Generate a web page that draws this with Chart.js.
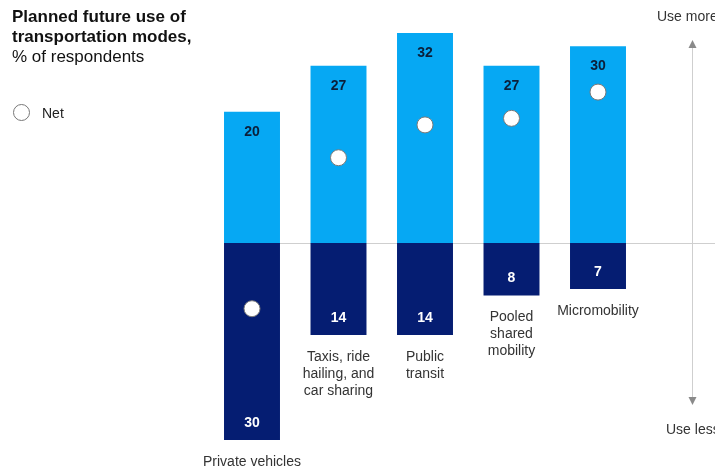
<!DOCTYPE html>
<html>
<head>
<meta charset="utf-8">
<script src="https://cdn.jsdelivr.net/npm/chart.js@4"></script>
<style>
  body { margin: 0; background: #fff; font-family: "Liberation Sans", Arial, sans-serif; }
  #wrap { position: relative; width: 715px; height: 468px; overflow: hidden; }
  #title { position: absolute; left: 12px; top: 7px; font-size: 17px; line-height: 20px; color: #111; }
  #title b { font-weight: bold; }
  #legend { position: absolute; left: 13px; top: 104px; font-size: 14px; color: #222; display: flex; align-items: center; }
  #legend span.dot { width: 17px; height: 17px; border: 1px solid #777; border-radius: 50%; box-sizing: border-box; margin-right: 12px; }
  .side { position: absolute; font-size: 14px; color: #333; white-space: nowrap; }
</style>
</head>
<body>
<div id="wrap">
  <canvas id="chart" width="715" height="468"></canvas>
  <div id="title"><b>Planned future use of<br>transportation modes,</b><br>% of respondents</div>
  <div id="legend"><span class="dot"></span>Net</div>
  <div class="side" style="left:657px; top:8px;">Use more</div>
  <div class="side" style="left:666px; top:421px;">Use less</div>
</div>
<script>
const categories = [
  ['Private vehicles'],
  ['Taxis, ride', 'hailing, and', 'car sharing'],
  ['Public', 'transit'],
  ['Pooled', 'shared', 'mobility'],
  ['Micromobility']
];
const useMore = [20, 27, 32, 27, 30];
const useLess = [30, 14, 14, 8, 7];
const net = useMore.map((v, i) => v - useLess[i]);

const lightBlue = '#06a8f3';
const navy = '#051d72';

// zero line, arrow, value labels and category names
const decorPlugin = {
  id: 'decor',
  beforeDatasetsDraw(chart) {
    const { ctx, scales: { y } } = chart;
    const first = chart.getDatasetMeta(0).data[0];
    const y0 = Math.round(y.getPixelForValue(0)) + 0.5;
    ctx.save();
    ctx.strokeStyle = '#cfcfcf';
    ctx.lineWidth = 1;
    ctx.beginPath();
    ctx.moveTo(first.x - first.width / 2, y0);
    ctx.lineTo(chart.width, y0);
    ctx.stroke();

    // arrow on the right
    const ax = 692.5;
    ctx.beginPath();
    ctx.moveTo(ax, 46);
    ctx.lineTo(ax, 400);
    ctx.stroke();
    ctx.fillStyle = '#8a8a8a';
    ctx.beginPath();
    ctx.moveTo(ax, 40); ctx.lineTo(ax - 4, 48); ctx.lineTo(ax + 4, 48); ctx.closePath();
    ctx.fill();
    ctx.beginPath();
    ctx.moveTo(ax, 405); ctx.lineTo(ax - 4, 397); ctx.lineTo(ax + 4, 397); ctx.closePath();
    ctx.fill();
    ctx.restore();
  },
  afterDatasetsDraw(chart) {
    const { ctx } = chart;
    const up = chart.getDatasetMeta(0).data;
    const down = chart.getDatasetMeta(1).data;
    const bold = 'bold 14px "Liberation Sans", Arial, sans-serif';
    ctx.save();
    ctx.textAlign = 'center';
    ctx.textBaseline = 'middle';
    ctx.font = bold;
    up.forEach((bar, i) => {
      ctx.fillStyle = '#0b1f3a';
      ctx.fillText(useMore[i], bar.x, bar.y + 20);
    });
    down.forEach((bar, i) => {
      ctx.font = bold;
      ctx.fillStyle = '#ffffff';
      ctx.fillText(useLess[i], bar.x, bar.y - 17);
      ctx.fillStyle = '#333';
      ctx.font = '14px "Liberation Sans", Arial, sans-serif';
      categories[i].forEach((line, k) => {
        ctx.fillText(line, bar.x, bar.y + 22 + k * 17);
      });
    });
    ctx.restore();
  }
};

new Chart(document.getElementById('chart'), {
  type: 'bar',
  data: {
    labels: categories.map(c => c.join(' ')),
    datasets: [
      { label: 'Use more', data: useMore, backgroundColor: lightBlue, stack: 's', order: 2,
        barPercentage: 1, categoryPercentage: 0.647 },
      { label: 'Use less', data: useLess.map(v => -v), backgroundColor: navy, stack: 's', order: 2,
        barPercentage: 1, categoryPercentage: 0.647 },
      { type: 'line', label: 'Net', data: net, stack: 'net', order: 0, showLine: false,
        pointRadius: 8, pointBackgroundColor: '#fff', pointBorderColor: '#7a7a7a', pointBorderWidth: 1 }
    ]
  },
  options: {
    responsive: false,
    animation: false,
    layout: { padding: { left: 208.75, right: 73.75, top: 33, bottom: 28 } },
    plugins: { legend: { display: false }, tooltip: { enabled: false } },
    scales: {
      x: { display: false, stacked: true, offset: true },
      y: { display: false, stacked: true, min: -30, max: 32 }
    }
  },
  plugins: [decorPlugin]
});
</script>
</body>
</html>
